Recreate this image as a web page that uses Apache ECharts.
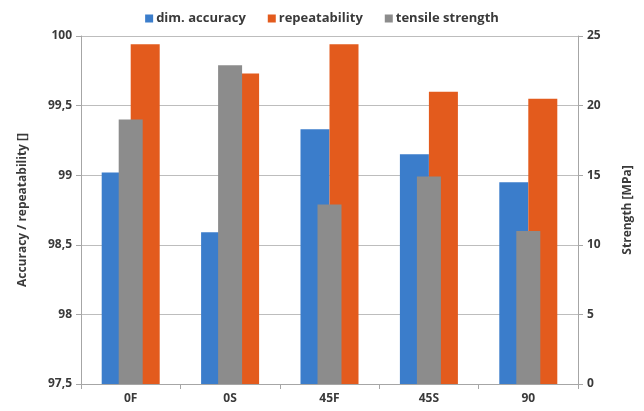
<!DOCTYPE html>
<html>
<head>
<meta charset="utf-8">
<script src="https://cdn.jsdelivr.net/npm/echarts@6/dist/echarts.min.js"></script>
<style>
  html, body { margin: 0; padding: 0; background: #ffffff; }
  #chart { width: 644px; height: 411px; }
</style>
</head>
<body>
<div id="chart"></div>
<script>
// Build orientations / specimen groups
const categories = ['0F', '0S', '45F', '45S', '90'];

// Left axis values (%)
const dimAccuracy   = [99.02, 98.59, 99.33, 99.15, 98.95];
const repeatability = [99.94, 99.73, 99.94, 99.60, 99.55];

// Right axis values (MPa)
const tensileStrength = [19.0, 22.9, 12.9, 14.9, 11.0];

const seriesNames = ['dim. accuracy', 'repeatability', 'tensile strength'];
const colors = ['#3b7dcb', '#e35b1d', '#8c8c8c'];

const textColor = '#3a3a3a';
const fontFamily = '"Open Sans", "Liberation Sans", sans-serif';
const comma = v => String(v).replace('.', ',');

const chart = echarts.init(document.getElementById('chart'));
chart.setOption({
  animation: false,
  textStyle: { fontFamily: fontFamily },
  legend: {
    top: 7,
    left: 'center',
    itemWidth: 8,
    itemHeight: 8,
    itemGap: 22,
    icon: 'rect',
    textStyle: { color: textColor, fontWeight: 'bold', fontSize: 13, fontFamily: fontFamily, padding: [0, 0, 0, -2] },
    data: seriesNames
  },
  grid: { left: 81, right: 66, top: 36, bottom: 27 },
  xAxis: [
    {
      type: 'category',
      data: categories,
      axisLine: { lineStyle: { color: '#a6a6a6', width: 1 } },
      axisTick: { show: true, length: 5, lineStyle: { color: '#a6a6a6' } },
      axisLabel: { color: textColor, fontWeight: 'bold', fontSize: 12, margin: 9 }
    },
    {
      type: 'category',
      data: categories,
      show: false
    }
  ],
  yAxis: [
    {
      type: 'value',
      min: 97.5,
      max: 100,
      interval: 0.5,
      name: 'Accuracy / repeatability []',
      nameLocation: 'middle',
      nameGap: 52,
      nameRotate: 90,
      nameTextStyle: { color: textColor, fontWeight: 'bold', fontSize: 12 },
      axisLine: { show: true, lineStyle: { color: '#a6a6a6' } },
      axisTick: { show: true, length: 5, lineStyle: { color: '#a6a6a6' } },
      axisLabel: { color: textColor, fontWeight: 'bold', fontSize: 12, margin: 9, formatter: v => comma(v) },
      splitLine: { lineStyle: { color: '#bdbdbd' } }
    },
    {
      type: 'value',
      min: 0,
      max: 25,
      interval: 5,
      position: 'right',
      name: 'Strength [MPa]',
      nameLocation: 'middle',
      nameGap: 44,
      nameRotate: 90,
      nameTextStyle: { color: textColor, fontWeight: 'bold', fontSize: 12 },
      axisLine: { show: true, lineStyle: { color: '#a6a6a6' } },
      axisTick: { show: true, length: 5, lineStyle: { color: '#a6a6a6' } },
      axisLabel: { color: textColor, fontWeight: 'bold', fontSize: 12, margin: 9 },
      splitLine: { show: false }
    }
  ],
  series: [
    {
      name: seriesNames[0],
      type: 'bar',
      xAxisIndex: 0,
      yAxisIndex: 0,
      data: dimAccuracy,
      barWidth: 29,
      barGap: '0%',
      itemStyle: { color: colors[0] },
      z: 2
    },
    {
      name: seriesNames[1],
      type: 'bar',
      xAxisIndex: 0,
      yAxisIndex: 0,
      data: repeatability,
      barWidth: 29,
      barGap: '0%',
      itemStyle: { color: colors[1] },
      z: 2
    },
    {
      name: seriesNames[2],
      type: 'bar',
      xAxisIndex: 1,
      yAxisIndex: 1,
      data: tensileStrength,
      barWidth: 24,
      itemStyle: { color: colors[2] },
      z: 3
    }
  ]
});
</script>
</body>
</html>
